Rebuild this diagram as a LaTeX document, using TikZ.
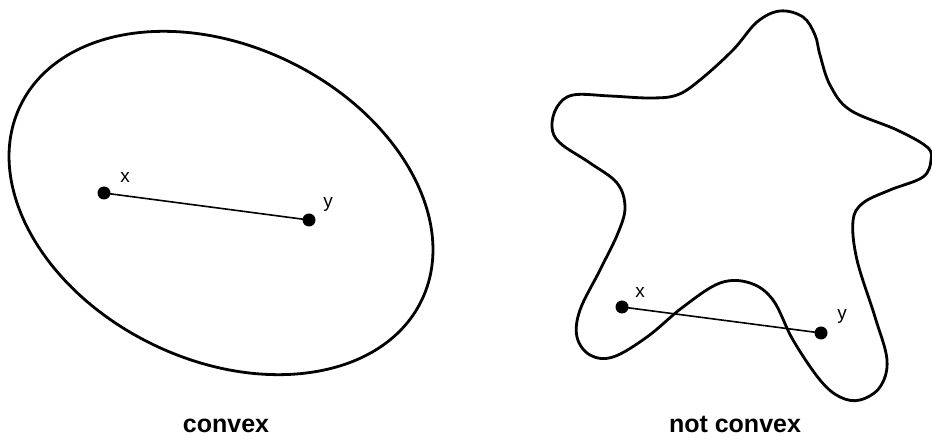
\documentclass[tikz,border=0pt]{standalone}
\usepackage{fontspec}
\setmainfont{Liberation Sans}
\begin{document}
\begin{tikzpicture}[x=1pt,y=1pt,
  outline/.style={line width=2.8pt},
  seg/.style={line width=1.6pt},
  pt/.style={circle,fill=black,inner sep=0pt,minimum size=13pt},
  lbl/.style={font=\fontsize{19}{19}\selectfont,anchor=base,inner sep=0pt},
  captiontext/.style={font=\fontsize{25}{25}\selectfont\bfseries,anchor=base,inner sep=0pt}]
\useasboundingbox (0,0) rectangle (932,441);
% convex set
\draw[outline] (221,238) ellipse[x radius=223, y radius=157, rotate=-26];
\node[pt] (x1) at (104,248) {};
\node[pt] (y1) at (309,221) {};
\draw[seg] (x1.center) -- (y1.center);
\node[lbl] (lx1) at (125,258) {x};
\node[lbl] (ly1) at (328,233) {y};
\node[captiontext] (c1) at (226,8) {convex};
% non-convex set
\draw[outline] plot[smooth cycle, tension=0.6] coordinates {
 (815,406) (803,424) (780,430) (757,419) (733,391) (700,361) (677,346)
 (650,343) (610,345) (573,346) (557,334) (552,314) (560,298) (590,278)
 (617,258) (625,234) (618,208) (600,171) (580,131) (577,104) (590,86)
 (613,84) (647,104) (683,134) (720,158) (750,158) (773,141) (793,101)
 (820,61) (840,44) (860,41) (880,54) (887,81) (875,124) (857,181)
 (853,220) (863,238) (890,251) (923,264) (931,281) (927,294) (897,311)
 (850,331) (830,356) (820,386)};
\node[pt] (x2) at (622,134) {};
\node[pt] (y2) at (821,108) {};
\draw[seg] (x2.center) -- (y2.center);
\node[lbl] (lx2) at (640,143) {x};
\node[lbl] (ly2) at (842,121) {y};
\node[captiontext] (c2) at (735,8) {not convex};
\end{tikzpicture}
\end{document}
